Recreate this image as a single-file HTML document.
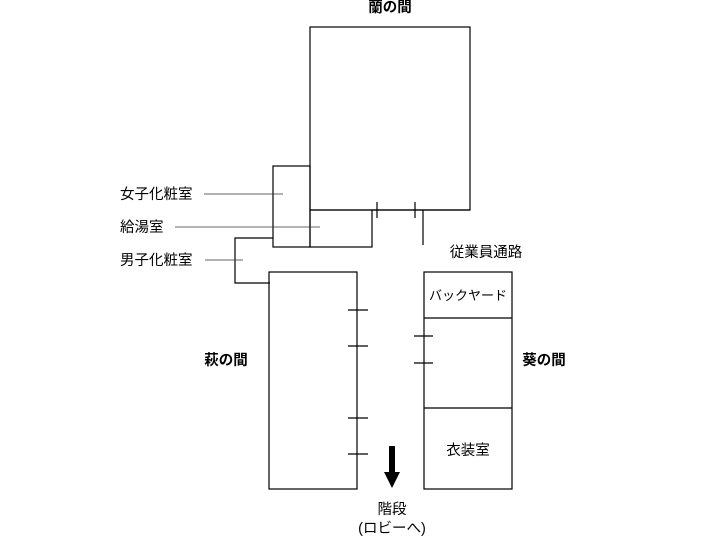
<!DOCTYPE html>
<html><head><meta charset="utf-8"><style>
body{margin:0;background:#fff;}
svg text{font-family:"Liberation Sans","Noto Sans CJK JP",sans-serif;font-size:14.5px;fill:#000;}
</style></head><body>
<svg width="725" height="537" xmlns="http://www.w3.org/2000/svg">
<g fill="none" stroke="#000" stroke-width="1.2">
<rect x="310" y="27" width="160" height="183"/>
<rect x="273" y="166" width="37" height="81"/>
<rect x="310" y="210" width="62" height="37"/>
<line x1="372" y1="210" x2="470" y2="210"/>
<line x1="377" y1="202" x2="377" y2="218"/>
<line x1="415" y1="202" x2="415" y2="218"/>
<line x1="423" y1="210" x2="423" y2="245"/>
<polyline points="273,238 235,238 235,283 270,283"/>
<rect x="269" y="272" width="88" height="217"/>
<rect x="424" y="272" width="88" height="217"/>
<line x1="424" y1="318" x2="512" y2="318"/>
<line x1="424" y1="408" x2="512" y2="408"/>
<line x1="348" y1="310" x2="368" y2="310"/>
<line x1="348" y1="346" x2="368" y2="346"/>
<line x1="348" y1="418" x2="368" y2="418"/>
<line x1="348" y1="454" x2="368" y2="454"/>
<line x1="414" y1="336" x2="433" y2="336"/>
<line x1="414" y1="363" x2="433" y2="363"/>
</g>
<g stroke="#333" stroke-width="0.8">
<line x1="204" y1="194" x2="283" y2="194"/>
<line x1="175" y1="227" x2="320" y2="227"/>
<line x1="205" y1="260" x2="243" y2="260"/>
</g>
<rect x="389" y="446" width="6" height="26" fill="#000"/>
<polygon points="384,472 400,472 392,488" fill="#000"/>
<text x="390" y="12" text-anchor="middle" font-weight="bold">蘭の間</text>
<text x="120" y="199">女子化粧室</text>
<text x="120" y="232">給湯室</text>
<text x="120" y="265">男子化粧室</text>
<text x="486" y="257" text-anchor="middle">従業員通路</text>
<text x="468" y="300" text-anchor="middle" style="font-size:13px">バックヤード</text>
<text x="226" y="365" text-anchor="middle" font-weight="bold">萩の間</text>
<text x="544" y="365" text-anchor="middle" font-weight="bold">葵の間</text>
<text x="468" y="455" text-anchor="middle">衣装室</text>
<text x="392" y="514" text-anchor="middle">階段</text>
<text x="392" y="533" text-anchor="middle">(ロビーへ)</text>
</svg>
</body></html>
